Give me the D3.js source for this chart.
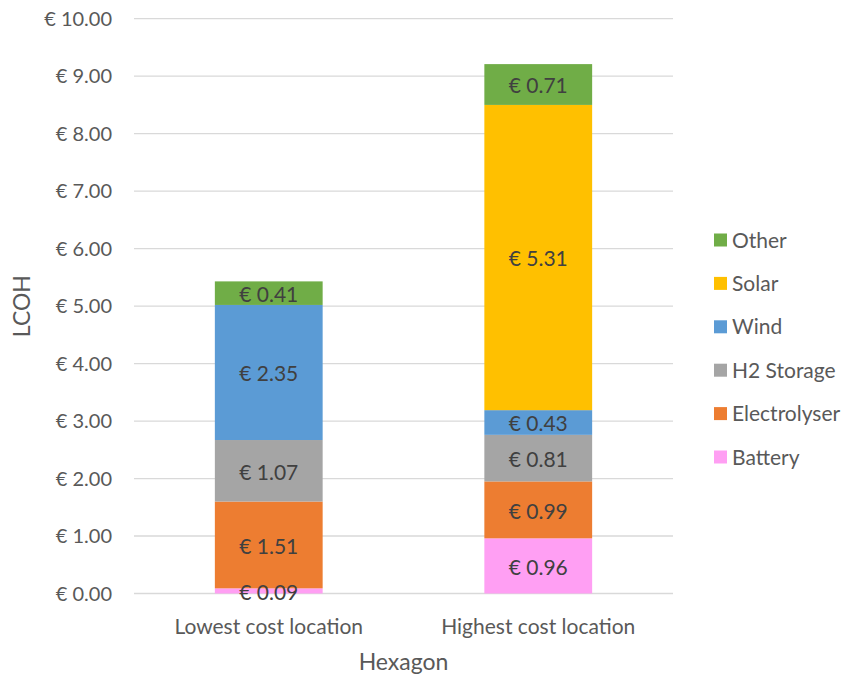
<!DOCTYPE html>
<html>
<head>
<meta charset="utf-8">
<script src="https://cdn.jsdelivr.net/npm/d3@7"></script>
<style>
    body { margin: 0; background: #fff; }
    svg text { font-family: Lato, "Open Sans", sans-serif; }
</style>
</head>
<body>
<svg id="chart" width="844" height="675"></svg>
<script>
/***************************************************************
    Data
****************************************************************/
const categories = ["Lowest cost location", "Highest cost location"];
const seriesNames = ["Battery", "Electrolyser", "H2 Storage", "Wind", "Solar", "Other"];
const seriesColors = ["#ff9ff3", "#ed7d31", "#a5a5a5", "#5b9bd5", "#ffc000", "#70ad47"];
const battery = [0.09, 0.96];
const electrolyser = [1.51, 0.99];
const h2Storage = [1.07, 0.81];
const wind = [2.35, 0.43];
const solar = [0, 5.31];
const other = [0.41, 0.71];
const yTicks = [0, 1, 2, 3, 4, 5, 6, 7, 8, 9, 10];

/***************************************************************
    Layout
****************************************************************/
const margin = { left: 134, right: 171, top: 18.7, bottom: 81.5 };
const width = 844 - margin.left - margin.right;
const height = 675 - margin.top - margin.bottom;

const svg = d3.select("#chart");
const g = svg.append("g").attr("transform", `translate(${margin.left},${margin.top})`);

const x = d3.scaleBand().domain(categories).range([0, width]).paddingInner(0.6).paddingOuter(0.3);
const y = d3.scaleLinear().domain([0, 10]).range([height, 0]);
const euro = v => "€ " + d3.format(".2f")(v);

// gridlines
g.selectAll("line.grid").data(yTicks).enter().append("line")
    .attr("class", "grid")
    .attr("x1", 0).attr("x2", width)
    .attr("y1", d => y(d)).attr("y2", d => y(d))
    .attr("stroke", "#d9d9d9").attr("stroke-width", 1.3);

// y tick labels
g.selectAll("text.ytick").data(yTicks).enter().append("text")
    .attr("class", "ytick")
    .attr("x", -22).attr("y", d => y(d)).attr("dy", "0.36em")
    .attr("text-anchor", "end").attr("fill", "#595959").attr("font-size", 20)
    .text(euro);

/***************************************************************
    Stacked bars
****************************************************************/
const allValues = [battery, electrolyser, h2Storage, wind, solar, other];
const table = categories.map((c, i) => {
    let row = { category: c };
    seriesNames.forEach((s, j) => row[s] = allValues[j][i]);
    return row;
});
const stacked = d3.stack().keys(seriesNames)(table);

const layers = g.selectAll("g.layer").data(stacked).enter().append("g")
    .attr("class", "layer")
    .attr("fill", (d, i) => seriesColors[i]);

layers.selectAll("rect").data(d => d).enter().append("rect")
    .attr("x", d => x(d.data.category))
    .attr("width", x.bandwidth())
    .attr("y", d => y(d[1]))
    .attr("height", d => y(d[0]) - y(d[1]));

// data labels on top of every segment
const labelPoints = stacked.flatMap(s => s.filter(p => p[1] - p[0] > 0));
g.append("g").selectAll("text").data(labelPoints).enter().append("text")
    .attr("x", d => x(d.data.category) + x.bandwidth() / 2)
    .attr("y", d => (y(d[0]) + y(d[1])) / 2)
    .attr("dy", "0.42em")
    .attr("text-anchor", "middle").attr("fill", "#404040").attr("font-size", 21)
    .text(d => euro(d[1] - d[0]));

// category labels
g.selectAll("text.xtick").data(categories).enter().append("text")
    .attr("class", "xtick")
    .attr("x", d => x(d) + x.bandwidth() / 2).attr("y", height + 33)
    .attr("dy", "0.36em")
    .attr("text-anchor", "middle").attr("fill", "#595959").attr("font-size", 21)
    .text(d => d);

// axis titles
svg.append("text")
    .attr("transform", `translate(22,${margin.top + height / 2}) rotate(-90)`)
    .attr("dy", "0.36em").attr("text-anchor", "middle")
    .attr("fill", "#595959").attr("font-size", 23).text("LCOH");

svg.append("text")
    .attr("x", margin.left + width / 2).attr("y", 662).attr("dy", "0.36em")
    .attr("text-anchor", "middle").attr("fill", "#595959").attr("font-size", 23).text("Hexagon");

/***************************************************************
    Legend
****************************************************************/
const legendOrder = seriesNames.slice().reverse();
const legend = svg.append("g").attr("transform", "translate(714,240)");
const items = legend.selectAll("g").data(legendOrder).enter().append("g")
    .attr("transform", (d, i) => `translate(0,${i * 43.4})`);
items.append("rect")
    .attr("x", 0).attr("y", -6.5).attr("width", 13).attr("height", 13)
    .attr("fill", d => seriesColors[seriesNames.indexOf(d)]);
items.append("text")
    .attr("x", 18).attr("y", 0).attr("dy", "0.36em")
    .attr("fill", "#595959").attr("font-size", 21).text(d => d);
</script>
</body>
</html>
